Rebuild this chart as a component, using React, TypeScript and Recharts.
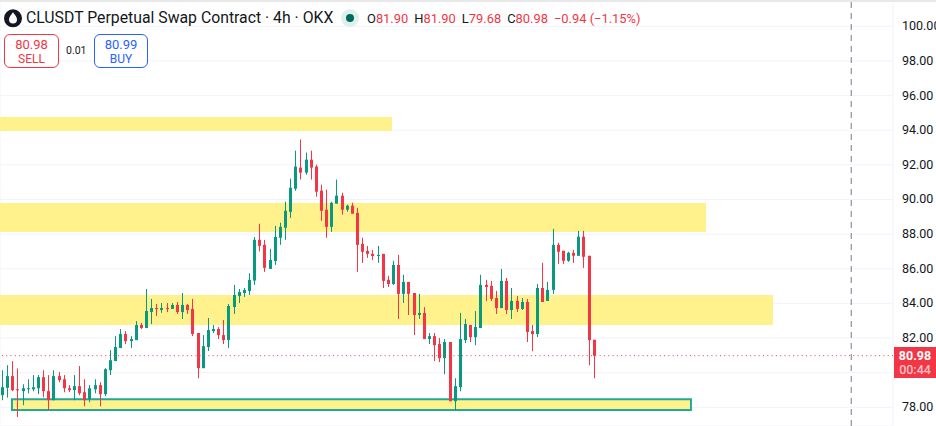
import React from 'react';
import {
  ComposedChart,
  Bar,
  XAxis,
  YAxis,
  CartesianGrid,
  ReferenceArea,
  ReferenceLine,
} from 'recharts';

const opens = [
  78.7, 79.12, 79.8, 79.04, 78.93, 79.04, 79.04, 79.1, 79.74, 78.93, 78.41, 79.8, 79.62, 79.1, 78.99, 79.22,
  78.87, 78.47, 79.04, 79.28, 78.76, 80.14, 80.67, 81.42, 82.23, 81.82, 81.88, 82.75, 82.58, 83.5, 83.73, 83.62,
  83.73, 83.68, 83.91, 83.5, 83.91, 83.68, 82.29, 80.26, 81.48, 82.4, 82.52, 82.17, 81.88, 83.79, 84.43, 84.6,
  84.72, 85.32, 87.67, 87.38, 85.99, 86.45, 87.79, 88.37, 89.29, 90.62, 91.84, 91.55, 92.3, 91.9, 90.51, 89.41,
  88.42, 89.76, 90.22, 89.41, 89.64, 89.23, 87.44, 87.03, 86.86, 86.74, 86.86, 85.36, 85.12, 86.22, 84.55, 85.24,
  84.6, 83.33, 83.45, 81.94, 82.11, 81.65, 80.84, 81.77, 78.35, 79.16, 81.88, 82.75, 82.05, 82.58, 85.07, 85.01,
  84.31, 83.73, 85.3, 83.62, 84.14, 83.68, 84.08, 82.4, 82.23, 84.89, 84.14, 84.78, 87.38, 87.04, 86.46, 86.92,
  86.75, 87.85, 86.75, 81.9,
];
const highs = [
  80.14, 80.43, 80.67, 80.24, 79.33, 79.62, 79.86, 79.86, 80.14, 79.86, 80.14, 80.03, 79.86, 79.28, 79.86, 80.38,
  79.62, 79.28, 79.62, 79.45, 80.26, 81.3, 82.11, 82.52, 82.4, 82.11, 82.98, 82.87, 84.83, 84.26, 83.97, 84.02,
  84.02, 84.02, 84.08, 84.6, 83.97, 84.26, 82.29, 82.17, 83.16, 82.75, 82.63, 83.04, 83.97, 85.07, 84.83, 84.89,
  85.74, 87.83, 88.6, 87.67, 87.15, 88.48, 88.66, 89.87, 91.2, 92.82, 93.46, 92.71, 92.82, 92.01, 90.86, 90.57,
  89.87, 91.15, 90.39, 89.7, 89.81, 89.52, 87.79, 87.32, 87.09, 87.32, 86.86, 85.59, 86.46, 86.8, 85.65, 85.24,
  84.6, 84.55, 83.79, 82.29, 82.29, 82.0, 81.94, 81.77, 79.68, 83.45, 83.1, 82.75, 83.56, 85.65, 85.36, 85.3,
  84.72, 85.99, 85.47, 84.89, 84.43, 84.31, 84.25, 82.75, 85.12, 86.34, 85.24, 88.31, 87.5, 87.04, 86.98, 87.09,
  88.19, 88.19, 86.75, 81.9,
];
const lows = [
  78.41, 78.56, 78.93, 77.44, 78.12, 78.81, 78.93, 78.76, 78.58, 77.83, 78.41, 79.45, 78.87, 78.87, 78.41, 78.7,
  78.06, 78.29, 78.81, 78.06, 78.64, 79.86, 80.67, 81.42, 81.65, 81.42, 81.88, 82.52, 82.58, 82.81, 83.27, 83.45,
  83.5, 83.68, 83.39, 83.1, 83.39, 82.11, 79.68, 80.26, 81.25, 82.29, 81.94, 81.65, 81.42, 83.39, 84.02, 84.37,
  84.49, 85.07, 87.0, 85.82, 85.99, 86.22, 87.38, 87.67, 88.94, 90.51, 91.15, 91.43, 91.15, 90.16, 88.77, 87.79,
  88.13, 89.76, 89.12, 89.29, 89.18, 85.82, 86.34, 86.63, 86.51, 86.34, 84.89, 84.95, 85.07, 83.1, 84.02, 83.33,
  82.17, 83.1, 81.94, 81.65, 80.67, 80.61, 79.91, 78.35, 77.83, 78.93, 81.71, 81.77, 81.59, 82.58, 84.14, 84.14,
  83.39, 83.73, 83.39, 83.1, 83.5, 83.62, 81.77, 81.24, 82.06, 84.08, 84.14, 84.55, 86.28, 86.28, 86.4, 86.34,
  86.75, 86.05, 80.43, 79.68,
];
const closes = [
  79.16, 79.8, 78.99, 78.99, 79.1, 79.1, 79.16, 79.74, 78.93, 78.41, 79.8, 79.57, 79.1, 78.99, 79.22, 78.81,
  78.41, 79.1, 79.28, 78.76, 80.2, 80.72, 81.48, 82.23, 81.82, 81.94, 82.75, 82.58, 83.56, 83.73, 83.68, 83.73,
  83.68, 83.91, 83.5, 83.91, 83.62, 82.23, 80.26, 81.53, 82.46, 82.52, 82.17, 81.88, 83.85, 84.49, 84.66, 84.78,
  85.36, 87.67, 87.32, 86.05, 86.51, 87.84, 88.42, 89.35, 90.68, 91.9, 91.55, 92.3, 91.84, 90.45, 89.35, 88.42,
  89.81, 90.22, 89.41, 89.64, 89.18, 87.38, 86.98, 86.86, 86.74, 86.8, 85.3, 85.12, 86.22, 84.55, 85.24, 84.55,
  83.33, 83.45, 81.94, 82.11, 81.59, 80.84, 81.77, 78.35, 79.22, 81.94, 82.81, 82.05, 82.64, 85.07, 84.95, 84.26,
  83.73, 85.3, 83.62, 84.14, 83.68, 84.08, 82.35, 82.23, 84.89, 84.08, 84.78, 87.38, 86.98, 86.46, 86.92, 86.75,
  87.85, 86.69, 81.88, 80.98,
];

const priceTicks = [78, 80, 82, 84, 86, 88, 90, 92, 94, 96, 98, 100];
const timeTicks = [5, 17, 29, 41, 53, 65, 77, 89, 107, 119, 131, 143, 155, 167];
const lastPrice = 80.98;
const slotCount = 173;

// yellow zones in bar units: start, end, bottom price, top price
const zoneTop = [-0.5, 75.69, 93.95, 94.76];
const zoneUpper = [-0.5, 136.72, 88.12, 89.8];
const zoneMiddle = [-0.5, 149.74, 82.75, 84.48];
const zoneBottom = [1.83, 133.8, 77.84, 78.46];

const UP = '#089981';
const DOWN = '#f23645';
const ZONE = '#fff18c';
const FONT = 'Roboto, sans-serif';

const rows = Array.from({ length: slotCount }, (_, i) => ({
  i,
  open: opens[i],
  close: closes[i],
  high: highs[i],
  low: lows[i],
  range: i < closes.length ? [lows[i], highs[i]] : null,
}));

function Candle(props: any) {
  const { x, y, width, height, payload } = props;
  if (!payload || payload.range === null) return null;
  const { open, close, high, low } = payload;
  const k = height / (high - low);
  const color = close >= open ? UP : DOWN;
  const top = y + (high - Math.max(open, close)) * k;
  const bottom = y + (high - Math.min(open, close)) * k;
  const cx = Math.round(x + width / 2 - 0.5);
  return (
    <g>
      <rect x={cx} y={y} width={1} height={height} fill={color} />
      <rect x={cx - 1} y={top} width={3} height={Math.max(bottom - top, 1)} fill={color} />
    </g>
  );
}

const redText: React.CSSProperties = { color: DOWN };
const labelText: React.CSSProperties = { marginLeft: 6, color: '#131722' };

function Header() {
  return (
    <div style={{ position: 'absolute', left: 0, top: 0, width: 936, height: 70, fontFamily: FONT, pointerEvents: 'none' }}>
      <svg width={26} height={30} style={{ position: 'absolute', left: 0, top: 4 }}>
        <circle cx={13} cy={14.3} r={9} fill="#131722" />
        <path d="M13 8.3 C15 11 17 13 17 15.6 A4 4 0 0 1 9 15.6 C9 13 11 11 13 8.3 Z" fill="#fff" />
      </svg>
      <div style={{ position: 'absolute', left: 26, top: 9, fontSize: 15.8, lineHeight: '18px', color: '#131722', whiteSpace: 'nowrap' }}>
        CLUSDT Perpetual Swap Contract · 4h · OKX
      </div>
      <svg width={20} height={20} style={{ position: 'absolute', left: 340, top: 8 }}>
        <circle cx={10} cy={10} r={9} fill="#dff0ec" />
        <circle cx={10} cy={10} r={4} fill="#00695c" />
      </svg>
      <div style={{ position: 'absolute', left: 361, top: 11, fontSize: 12.9, lineHeight: '15px', whiteSpace: 'nowrap' }}>
        <span style={labelText}>O</span><span style={redText}>81.90</span>
        <span style={labelText}>H</span><span style={redText}>81.90</span>
        <span style={labelText}>L</span><span style={redText}>79.68</span>
        <span style={labelText}>C</span><span style={redText}>80.98</span>
        <span style={{ ...redText, marginLeft: 6 }}>−0.94 (−1.15%)</span>
      </div>
      <div style={{ position: 'absolute', left: 4, top: 34, width: 53, height: 32, border: `1px solid ${DOWN}`, borderRadius: 6, background: '#fff', color: DOWN, textAlign: 'center' }}>
        <div style={{ fontSize: 13, lineHeight: '15px', marginTop: 2 }}>80.98</div>
        <div style={{ fontSize: 12, lineHeight: '14px' }}>SELL</div>
      </div>
      <div style={{ position: 'absolute', left: 66, top: 44, fontSize: 10.5, lineHeight: '13px', color: '#131722' }}>0.01</div>
      <div style={{ position: 'absolute', left: 94, top: 34, width: 52, height: 32, border: '1px solid #2962ff', borderRadius: 6, background: '#fff', color: '#2962ff', textAlign: 'center' }}>
        <div style={{ fontSize: 13, lineHeight: '15px', marginTop: 2 }}>80.99</div>
        <div style={{ fontSize: 12, lineHeight: '14px' }}>BUY</div>
      </div>
      <div style={{ position: 'absolute', left: 894, top: 347, width: 42, height: 31, background: DOWN, textAlign: 'center', fontSize: 12.5, lineHeight: '14px' }}>
        <div style={{ color: '#fff', fontWeight: 700, marginTop: 2 }}>80.98</div>
        <div style={{ color: 'rgba(255,255,255,0.7)', fontWeight: 500 }}>00:44</div>
      </div>
    </div>
  );
}

export default function App() {
  return (
    <div style={{ position: 'absolute', left: 0, top: 0, width: 936, height: 426, background: '#fff', overflow: 'hidden' }}>
      <ComposedChart
        width={936}
        height={426}
        data={rows}
        margin={{ top: 0, right: 0, bottom: 0, left: 0 }}
        style={{ position: 'absolute', left: 0, top: 0 }}
      >
        <CartesianGrid stroke="#f0f3fa" strokeWidth={1} />
        <XAxis
          dataKey="i"
          height={0}
          interval={0}
          ticks={timeTicks}
          tick={false}
          tickLine={false}
          axisLine={false}
          padding={{ left: 0, right: 2.9 }}
        />
        <XAxis xAxisId="bars" dataKey="i" type="number" domain={[-0.5, 173.07]} height={0} hide />
        <YAxis
          orientation="right"
          width={43}
          domain={[76.92, 101.52]}
          ticks={priceTicks}
          interval={0}
          tickFormatter={(v: number) => (v === 80 ? '' : v.toFixed(2))}
          tick={{ fill: '#131722', fontSize: 12.5, fontFamily: FONT, dy: -0.5 }}
          tickLine={false}
          axisLine={false}
          tickMargin={3}
          allowDataOverflow
        />
        {[zoneTop, zoneUpper, zoneMiddle].map((z, n) => (
          <ReferenceArea
            key={n}
            xAxisId="bars"
            x1={z[0]}
            x2={z[1]}
            y1={z[2]}
            y2={z[3]}
            fill={ZONE}
            fillOpacity={1}
            stroke="none"
            ifOverflow="visible"
          />
        ))}
        <ReferenceArea
          xAxisId="bars"
          x1={zoneBottom[0]}
          x2={zoneBottom[1]}
          y1={zoneBottom[2]}
          y2={zoneBottom[3]}
          fill={ZONE}
          fillOpacity={1}
          stroke="#22ab94"
          strokeWidth={2}
          ifOverflow="visible"
        />
        <Bar dataKey="range" barSize={3} shape={Candle} isAnimationActive={false} />
        <ReferenceLine y={lastPrice} stroke={DOWN} strokeDasharray="1 3.3" strokeWidth={1} />
        <ReferenceLine xAxisId="bars" x={164.95} stroke="#787b86" strokeDasharray="6 5" strokeWidth={1} />
      </ComposedChart>
      <div style={{ position: 'absolute', left: 0, top: 0, width: 936, height: 2, background: '#e8e8e8' }} />
      <Header />
    </div>
  );
}
